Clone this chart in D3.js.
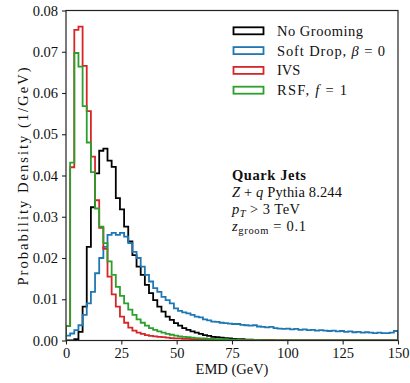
<!DOCTYPE html>
<html>
<head>
<meta charset="utf-8">
<script src="https://cdn.jsdelivr.net/npm/d3@7"></script>
<style>
  body { margin: 0; background: #fff; }
  svg text { font-family: "Liberation Serif", "DejaVu Serif", serif; fill: #111; }
</style>
</head>
<body>
<svg id="chart" width="410" height="383"></svg>
<script>
// histogram settings: 80 bins over 0-150 GeV
const BIN_WIDTH = 1.875;
const xTicks = [0, 25, 50, 75, 100, 125, 150];
const yTicks = [0, 0.01, 0.02, 0.03, 0.04, 0.05, 0.06, 0.07, 0.08];

// probability density per bin
const noGrooming = [
  0, 0, 0.0003, 0.0021, 0.0082, 0.0227, 0.0323, 0.0405, 0.046, 0.0465,
  0.0436, 0.0421, 0.0345, 0.0318, 0.0276, 0.024, 0.0207, 0.0179, 0.0159, 0.0135,
  0.0115, 0.0098, 0.0082, 0.007, 0.0058, 0.005, 0.0042, 0.0036, 0.003, 0.0026,
  0.0022, 0.0019, 0.0016, 0.0013, 0.0011, 0.0009, 0.0008, 0.0007, 0.0006, 0.0005,
  0.0004, 0.0003, 0.0003, 0.0002, 0.0002, 0.0001, 0.0001, 0.0001, 0.0001, 0.0001,
  0.00005, 0.00005, 0.00005, 0.00005, 0.00005, 0.00005, 0.00005, 0.00005, 0.00005, 0.00005,
  0.00005, 0.00005, 0.00005, 0.00005, 0.00005, 0.00005, 0.00005, 0.00005, 0.00005, 0.00005,
  0.00005, 0.00005, 0.00005, 0.00005, 0.00005, 0.00005, 0.00005, 0.00005, 0.00005, 0.00005
];
const softDrop = [
  0.0012, 0.0017, 0.0025, 0.0037, 0.0062, 0.009, 0.0118, 0.0163, 0.02, 0.0227,
  0.0256, 0.0261, 0.0256, 0.0261, 0.0252, 0.0236, 0.0215, 0.02, 0.0179, 0.0159,
  0.0143, 0.0127, 0.0118, 0.0106, 0.0098, 0.009, 0.0078, 0.0072, 0.0068, 0.0066,
  0.0062, 0.0058, 0.0056, 0.0051, 0.0049, 0.0046, 0.0045, 0.0043, 0.0042, 0.0041,
  0.004, 0.004, 0.0038, 0.0037, 0.0036, 0.0037, 0.0034, 0.0033, 0.0032, 0.0033,
  0.003, 0.0029, 0.0028, 0.0029, 0.0027, 0.0028, 0.0026, 0.0027, 0.0025, 0.0026,
  0.0024, 0.0025, 0.0024, 0.0023, 0.0024, 0.0022, 0.0023, 0.0021, 0.0022, 0.002,
  0.0021, 0.0019, 0.002, 0.0019, 0.0018, 0.0019, 0.0018, 0.0018, 0.0019, 0.0023
];
const ivs = [
  0.0035, 0.042, 0.0753, 0.0761, 0.0666, 0.0556, 0.0446, 0.034, 0.0273, 0.0222,
  0.0155, 0.0112, 0.0082, 0.0058, 0.0043, 0.0031, 0.0024, 0.0019, 0.0016, 0.0013,
  0.0011, 0.001, 0.0009, 0.0008, 0.0007, 0.0006, 0.0005, 0.0005, 0.0004, 0.0004,
  0.0003, 0.0003, 0.0003, 0.0002, 0.0002, 0.0002, 0.0002, 0.0001, 0.0001, 0.0001,
  0.0001, 0.0001, 0.0001, 0.0001, 0.0001, 0.00005, 0.00005, 0.00005, 0.00005, 0.00005,
  0.00005, 0.00005, 0.00005, 0.00005, 0.00005, 0.00005, 0.00005, 0.00005, 0.00005, 0.00005,
  0.00005, 0.00005, 0.00005, 0.00005, 0.00005, 0.00005, 0.00005, 0.00005, 0.00005, 0.00005,
  0.00005, 0.00005, 0.00005, 0.00005, 0.00005, 0.00005, 0.00005, 0.00005, 0.00005, 0.00005
];
const rsf = [
  0.0035, 0.0431, 0.0697, 0.0664, 0.0568, 0.048, 0.0408, 0.032, 0.0276, 0.0236,
  0.0192, 0.0159, 0.013, 0.0108, 0.009, 0.0075, 0.0062, 0.0051, 0.0043, 0.0036,
  0.003, 0.0026, 0.0022, 0.0019, 0.0016, 0.0014, 0.0012, 0.001, 0.0009, 0.0008,
  0.0007, 0.0006, 0.0005, 0.0005, 0.0004, 0.0004, 0.0003, 0.0003, 0.0003, 0.0002,
  0.0002, 0.0002, 0.0001, 0.0001, 0.0001, 0.0001, 0.0001, 0.00005, 0.00005, 0.00005,
  0.00005, 0.00005, 0.00005, 0.00005, 0.00005, 0.00005, 0.00005, 0.00005, 0.00005, 0.00005,
  0.00005, 0.00005, 0.00005, 0.00005, 0.00005, 0.00005, 0.00005, 0.00005, 0.00005, 0.00005,
  0.00005, 0.00005, 0.00005, 0.00005, 0.00005, 0.00005, 0.00005, 0.00005, 0.00005, 0.00005
];

const series = [
  { name: "No Grooming", values: noGrooming, color: "#000000" },
  { name: "Soft Drop", values: softDrop, color: "#1f77b4" },
  { name: "IVS", values: ivs, color: "#d62728" },
  { name: "RSF", values: rsf, color: "#2ca02c" }
];

const svg = d3.select("#chart");
const plotLeft = 66, plotRight = 398, plotTop = 10.5, plotBottom = 340.5;
const FONT = "14.5px";

const x = d3.scaleLinear().domain([0, 150]).range([plotLeft, plotRight]);
const y = d3.scaleLinear().domain([0, 0.08]).range([plotBottom, plotTop]);

// widen a text (serif stand-in for Computer Modern) to the width seen in the picture
function fitWidth(sel, w) {
  const node = sel.node();
  const n = node.getNumberOfChars();
  const cur = node.getComputedTextLength();
  if (n > 1 && w > cur) sel.style("letter-spacing", ((w - cur) / (n - 1)) + "px");
  return sel;
}

svg.append("clipPath").attr("id", "plotclip")
  .append("rect")
  .attr("x", plotLeft).attr("y", plotTop)
  .attr("width", plotRight - plotLeft).attr("height", plotBottom - plotTop);

// step outline like histtype="step"
const line = d3.line()
  .x(d => x(d[0]))
  .y(d => y(d[1]))
  .curve(d3.curveStepAfter);

function stepPoints(vals) {
  const pts = [[0, 0]];
  vals.forEach((v, i) => pts.push([i * BIN_WIDTH, v]));
  pts.push([vals.length * BIN_WIDTH, 0]);
  return pts;
}

const histG = svg.append("g").attr("clip-path", "url(#plotclip)");
series.forEach(s => {
  histG.append("path")
    .attr("d", line(stepPoints(s.values)))
    .attr("fill", "none")
    .attr("stroke", s.color)
    .attr("stroke-width", 1.8)
    .attr("stroke-linejoin", "miter");
});

// axes
const xAxis = d3.axisBottom(x).tickValues(xTicks).tickSize(4).tickPadding(3)
  .tickFormat(d3.format("d"));
const yAxis = d3.axisLeft(y).tickValues(yTicks).tickSize(4).tickPadding(4)
  .tickFormat(d3.format(".2f"));

const xg = svg.append("g").attr("transform", `translate(0,${plotBottom})`).call(xAxis);
const yg = svg.append("g").attr("transform", `translate(${plotLeft},0)`).call(yAxis);
[xg, yg].forEach(g => {
  g.select(".domain").remove();
  g.selectAll(".tick line").attr("stroke", "#222").attr("stroke-width", 1.1);
  g.selectAll(".tick text").style("font-size", FONT).attr("fill", "#111");
});

// frame
svg.append("rect")
  .attr("x", plotLeft).attr("y", plotTop)
  .attr("width", plotRight - plotLeft).attr("height", plotBottom - plotTop)
  .attr("fill", "none").attr("stroke", "#222").attr("stroke-width", 1.2);

// axis labels
fitWidth(svg.append("text")
  .attr("x", (plotLeft + plotRight) / 2).attr("y", 374)
  .attr("text-anchor", "middle").style("font-size", FONT)
  .text("EMD (GeV)"), 68);

fitWidth(svg.append("text")
  .attr("transform", `translate(28,${(plotTop + plotBottom) / 2}) rotate(-90)`)
  .attr("text-anchor", "middle").style("font-size", FONT)
  .text("Probability Density (1/GeV)"), 218);

// legend
const legendY = [30.8, 50.6, 70.4, 90.2];
const legendWidths = [86, 108, 23, 70];
const legendLabels = [
  [["No Grooming", null]],
  [["Soft Drop, ", null], ["β", "italic"], [" = 0", null]],
  [["IVS", null]],
  [["RSF, ", null], ["f", "italic"], [" = 1", null]]
];
series.forEach((s, i) => {
  svg.append("rect")
    .attr("x", 233.5).attr("y", legendY[i] - 3.5)
    .attr("width", 30).attr("height", 7)
    .attr("fill", "none").attr("stroke", s.color).attr("stroke-width", 1.8);
  const t = svg.append("text")
    .attr("x", 277).attr("y", legendY[i] + 5)
    .style("font-size", FONT);
  legendLabels[i].forEach(p => {
    const sp = t.append("tspan").text(p[0]);
    if (p[1]) sp.style("font-style", p[1]);
  });
  fitWidth(t, legendWidths[i]);
});

// annotation
const ax = 232;
fitWidth(svg.append("text").attr("x", ax).attr("y", 179.5)
  .style("font-size", FONT).style("font-weight", "bold")
  .text("Quark Jets"), 74);

const l2 = svg.append("text").attr("x", ax).attr("y", 196.5).style("font-size", FONT);
l2.append("tspan").style("font-style", "italic").text("Z");
l2.append("tspan").text(" + ");
l2.append("tspan").style("font-style", "italic").text("q");
l2.append("tspan").text(" Pythia 8.244");
fitWidth(l2, 110);

const l3 = svg.append("text").attr("x", ax).attr("y", 213.5).style("font-size", FONT);
l3.append("tspan").style("font-style", "italic").text("p");
l3.append("tspan").style("font-style", "italic").style("font-size", "10.5px")
  .attr("dy", 3).text("T");
l3.append("tspan").attr("dy", -3).text(" > 3 TeV");
fitWidth(l3, 68);

const l4 = svg.append("text").attr("x", ax).attr("y", 230.5).style("font-size", FONT);
l4.append("tspan").style("font-style", "italic").text("z");
l4.append("tspan").style("font-size", "10.5px").attr("dy", 3).text("groom");
l4.append("tspan").attr("dy", -3).text(" = 0.1");
fitWidth(l4, 74);
</script>
</body>
</html>
